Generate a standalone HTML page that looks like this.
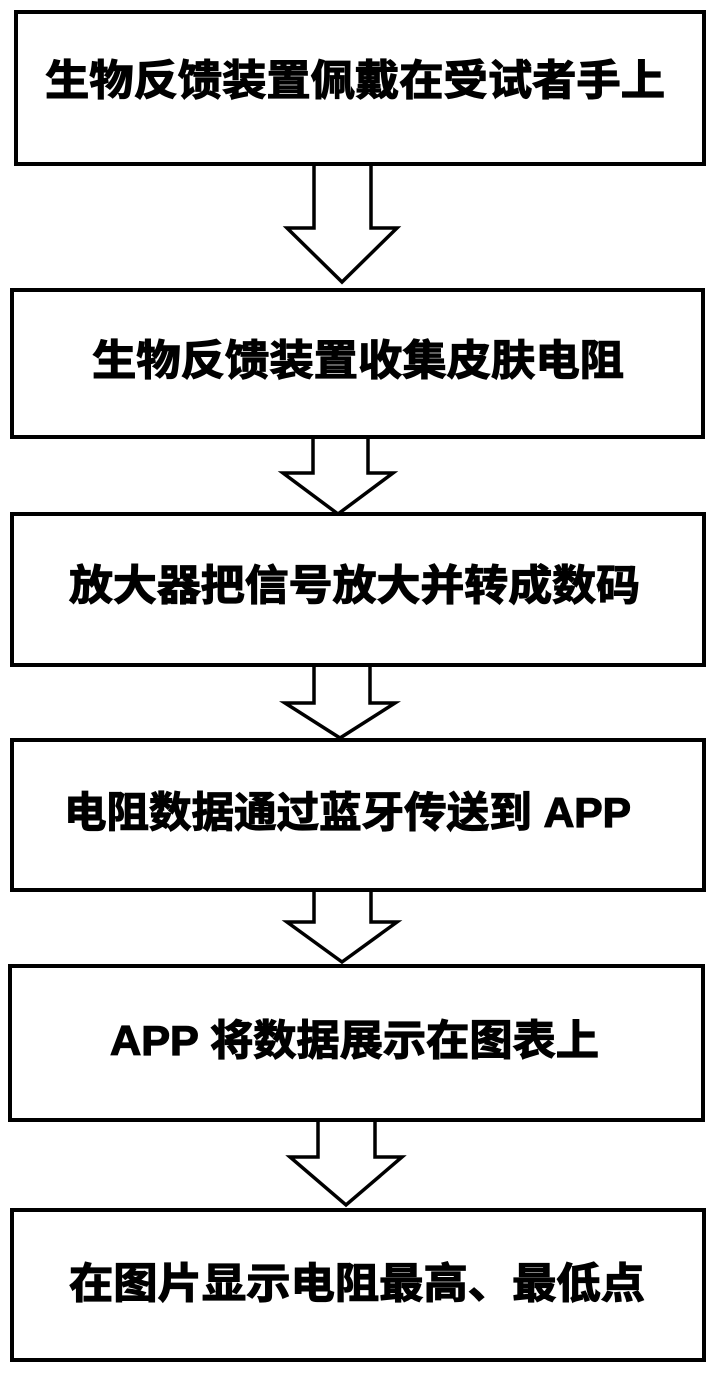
<!DOCTYPE html>
<html><head><meta charset="utf-8"><style>
html,body{margin:0;padding:0;background:#fff;}
svg{display:block;}
text{font-family:"Liberation Sans","Noto Sans CJK SC",sans-serif;font-weight:bold;font-size:42px;fill:#000;stroke:#000;stroke-width:1.2px;}
</style></head><body>
<svg width="715" height="1374" viewBox="0 0 715 1374" xmlns="http://www.w3.org/2000/svg">
<g fill="none" stroke="#000" stroke-width="4">
<rect x="16" y="12" width="688" height="152"/>
<rect x="12" y="290" width="691" height="147"/>
<rect x="12" y="514" width="692" height="151"/>
<rect x="12" y="740" width="692" height="150"/>
<rect x="10" y="966" width="693" height="154"/>
<rect x="12" y="1210" width="692" height="150"/>
<g stroke-width="3.5" stroke-linejoin="miter">
<polygon points="314,164 371,164 371,228 397,228 342,282 287,228 314,228"/>
<polygon points="313,437 368,437 368,473 393,473 338,514 283,473 313,473"/>
<polygon points="314,665 370,665 370,703 395,703 340,738 285,703 314,703"/>
<polygon points="314,890 371,890 371,922 397,922 342,962 287,922 314,922"/>
<polygon points="318,1120 375,1120 375,1157 402,1157 346,1205 290,1157 318,1157"/>
</g>
</g>
<text x="45" y="95" textLength="620" lengthAdjust="spacingAndGlyphs">生物反馈装置佩戴在受试者手上</text>
<text x="92" y="375" textLength="532" lengthAdjust="spacingAndGlyphs">生物反馈装置收集皮肤电阻</text>
<text x="69" y="600" textLength="571" lengthAdjust="spacingAndGlyphs">放大器把信号放大并转成数码</text>
<text x="64" y="827" textLength="567" lengthAdjust="spacingAndGlyphs">电阻数据通过蓝牙传送到 APP</text>
<text x="110" y="1055" textLength="489" lengthAdjust="spacingAndGlyphs">APP 将数据展示在图表上</text>
<text x="69" y="1298" textLength="576" lengthAdjust="spacingAndGlyphs">在图片显示电阻最高、最低点</text>
</svg>
</body></html>
